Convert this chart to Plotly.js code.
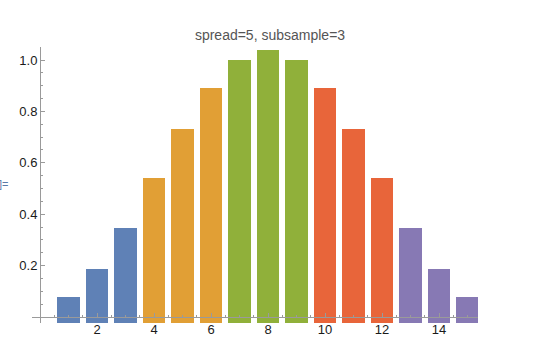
<!DOCTYPE html>
<html>
<head>
<meta charset="utf-8">
<script src="https://cdn.plot.ly/plotly-3.0.1.min.js"></script>
<style>html,body{margin:0;padding:0;background:#fff;}#chart{width:540px;height:355px;}</style>
</head>
<body>
<div id="chart"></div>
<script>
// Data
var positions = [1, 2, 3, 4, 5, 6, 7, 8, 9, 10, 11, 12, 13, 14, 15];
var values = [0.078, 0.187, 0.347, 0.54, 0.73, 0.89, 1.0, 1.04, 1.0, 0.89, 0.73, 0.54, 0.347, 0.187, 0.078];
var groupColors = ['#5F81B6', '#E19F35', '#90B03A', '#E8653A', '#8779B4'];
var groupOf = [0, 0, 0, 1, 1, 1, 2, 2, 2, 3, 3, 3, 4, 4, 4];
var titleText = 'spread=5, subsample=3';
var xTickVals = [2, 4, 6, 8, 10, 12, 14];
var yTickVals = [0.2, 0.4, 0.6, 0.8, 1.0];
var yTickText = ['0.2', '0.4', '0.6', '0.8', '1.0'];

// styling / layout constants
var X_RANGE = [-0.281, 15.368];
var Y_RANGE = [-0.0233, 1.0506];
var BAR_BASE = Y_RANGE[0];

var trace = {
  type: 'bar',
  x: positions,
  y: values.map(function (v) { return v - BAR_BASE; }),
  base: BAR_BASE,
  width: 0.78,
  marker: {
    color: groupOf.map(function (g) { return groupColors[g]; }),
    line: {width: 0}
  },
  hoverinfo: 'skip'
};

var axisColor = '#9a9a9a';
var tickFont = {family: 'Liberation Sans, Arial, sans-serif', size: 13, color: '#1a1a1a'};

var layout = {
  width: 540,
  height: 355,
  margin: {l: 32, r: 62, t: 47, b: 32, pad: 0},
  paper_bgcolor: '#ffffff',
  plot_bgcolor: '#ffffff',
  showlegend: false,
  bargap: 0,
  title: {
    text: titleText,
    font: {family: 'Liberation Sans, Arial, sans-serif', size: 14, color: '#555555'},
    x: 0.5, xref: 'container', xanchor: 'center',
    y: 1 - 35 / 355, yref: 'container', yanchor: 'middle'
  },
  xaxis: {
    range: X_RANGE,
    anchor: 'free',
    position: (0 - Y_RANGE[0]) / (Y_RANGE[1] - Y_RANGE[0]),
    showgrid: false,
    zeroline: false,
    showline: true,
    linecolor: axisColor,
    linewidth: 1,
    tickmode: 'array',
    tickvals: xTickVals,
    ticks: 'inside',
    ticklen: 4,
    tickcolor: axisColor,
    tickfont: tickFont,
    minor: {dtick: 0.5, tick0: 0, ticks: 'inside', ticklen: 2, tickcolor: axisColor, showgrid: false},
    fixedrange: true
  },
  yaxis: {
    range: Y_RANGE,
    anchor: 'free',
    position: (0 - X_RANGE[0]) / (X_RANGE[1] - X_RANGE[0]),
    showgrid: false,
    zeroline: false,
    showline: true,
    linecolor: axisColor,
    linewidth: 1,
    tickmode: 'array',
    tickvals: yTickVals,
    ticktext: yTickText,
    ticks: 'inside',
    ticklen: 4,
    tickcolor: axisColor,
    tickfont: tickFont,
    minor: {dtick: 0.05, tick0: 0, ticks: 'inside', ticklen: 2, tickcolor: axisColor, showgrid: false},
    fixedrange: true
  },
  annotations: [{
    text: ']=',
    xref: 'paper', yref: 'paper',
    x: -0.078, y: 0.505,
    xanchor: 'left', yanchor: 'middle',
    showarrow: false,
    font: {family: 'Liberation Sans, Arial, sans-serif', size: 11, color: '#5a7aa8'}
  }]
};

Plotly.newPlot('chart', [trace], layout, {displayModeBar: false, staticPlot: true});
</script>
</body>
</html>
